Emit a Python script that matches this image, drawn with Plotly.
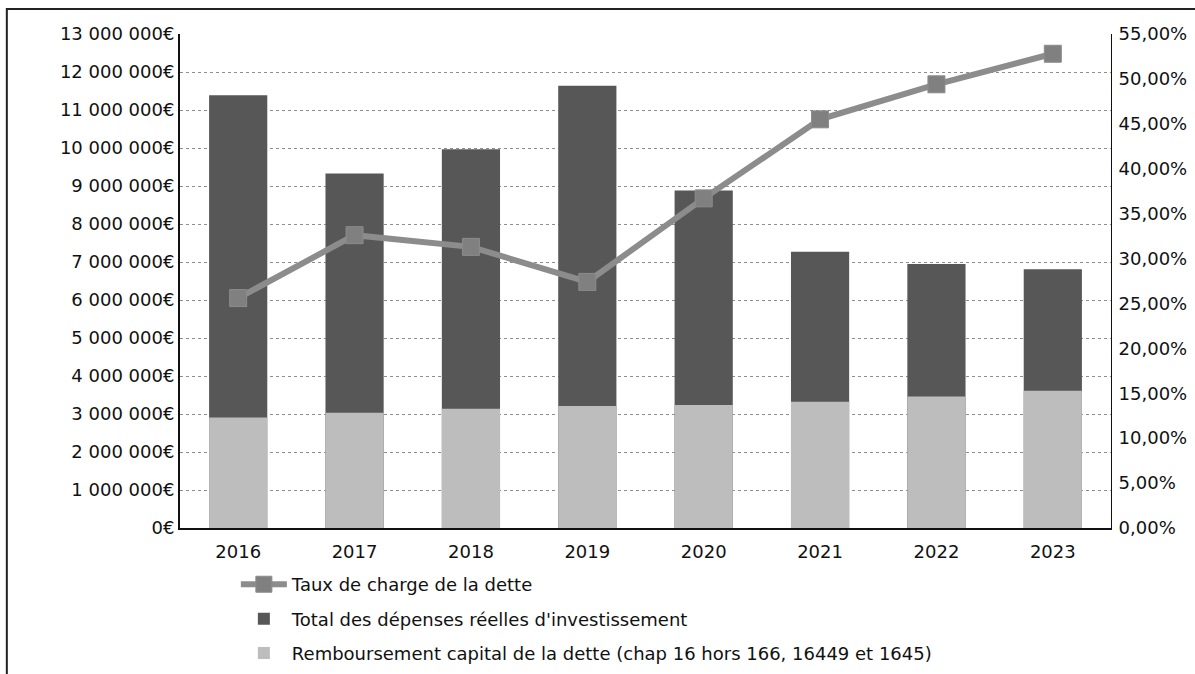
import plotly.graph_objects as go

# Années et valeurs
annees = ["2016", "2017", "2018", "2019", "2020", "2021", "2022", "2023"]
depenses_investissement = [11390000, 9330000, 9970000, 11640000, 8880000, 7270000, 6950000, 6810000]
remboursement_capital = [2910000, 3030000, 3140000, 3210000, 3240000, 3320000, 3460000, 3610000]
taux_charge_dette = [25.6, 32.6, 31.3, 27.4, 36.7, 45.5, 49.4, 52.8]

# Graduations des axes
euro_vals = [i * 1000000 for i in range(14)]
euro_text = ["0€", "1 000 000€", "2 000 000€", "3 000 000€", "4 000 000€", "5 000 000€",
             "6 000 000€", "7 000 000€", "8 000 000€", "9 000 000€", "10 000 000€",
             "11 000 000€", "12 000 000€", "13 000 000€"]
pct_vals = [i * 5 for i in range(12)]
pct_text = ["0,00%", "5,00%", "10,00%", "15,00%", "20,00%", "25,00%", "30,00%",
            "35,00%", "40,00%", "45,00%", "50,00%", "55,00%"]

FONT = "DejaVu Sans"
DARK = "#575757"
LIGHT = "#bdbdbd"
LINE = "#8c8c8c"

fig = go.Figure()

fig.add_trace(go.Scatter(
    x=annees, y=taux_charge_dette, name="Taux de charge de la dette",
    mode="lines+markers", yaxis="y2",
    line=dict(color=LINE, width=6),
    marker=dict(symbol="square", size=17, color="#808080",
                line=dict(color="#8c8c8c", width=1)),
    legendgroup="a",
))
fig.add_trace(go.Bar(
    x=annees, y=depenses_investissement,
    name="Total des dépenses réelles d'investissement",
    marker=dict(color=DARK, line=dict(width=0)), width=0.5,
    legendgroup="b",
))
fig.add_trace(go.Bar(
    x=annees, y=remboursement_capital,
    name="Remboursement capital de la dette (chap 16 hors 166, 16449 et 1645)",
    marker=dict(color=LIGHT, line=dict(width=0)), width=0.5,
    legendgroup="c",
))

fig.update_layout(
    width=1195, height=674,
    margin=dict(l=180, r=84, t=34, b=146, autoexpand=False),
    paper_bgcolor="white", plot_bgcolor="white",
    barmode="overlay",
    font=dict(family=FONT, size=18, color="#111111"),
    xaxis=dict(
        type="category", showgrid=False,
        showline=True, linecolor="#111111", linewidth=2,
        ticks="", ticklabelstandoff=6, tickfont=dict(size=18, color="#111111"),
        range=[-0.5, 7.5],
    ),
    yaxis=dict(
        range=[0, 13000000], tickvals=euro_vals, ticktext=euro_text,
        showgrid=True, gridcolor="#8e8e8e", griddash="dot", gridwidth=1,
        showline=True, linecolor="#111111", linewidth=2,
        zeroline=False, ticks="", ticklabelstandoff=0,
        tickfont=dict(size=18, color="#111111"),
    ),
    yaxis2=dict(
        overlaying="y", side="right",
        range=[0, 55], tickvals=pct_vals, ticktext=pct_text,
        showgrid=False, showline=True, linecolor="#111111", linewidth=1,
        zeroline=False, ticks="", ticklabelstandoff=3,
        tickfont=dict(size=18, color="#111111"),
    ),
    legend=dict(
        x=0.060, y=-0.077, xanchor="left", yanchor="top",
        traceorder="grouped", tracegroupgap=8,
        font=dict(size=18, color="#111111"),
        bgcolor="rgba(0,0,0,0)", itemwidth=46,
    ),
    shapes=[dict(
        type="rect", xref="paper", yref="paper",
        x0=-0.186, x1=1.3, y0=-0.5, y1=1.0506,
        line=dict(color="#222222", width=2), fillcolor="rgba(0,0,0,0)",
        layer="below",
    )],
)

fig.write_html("out.html")
